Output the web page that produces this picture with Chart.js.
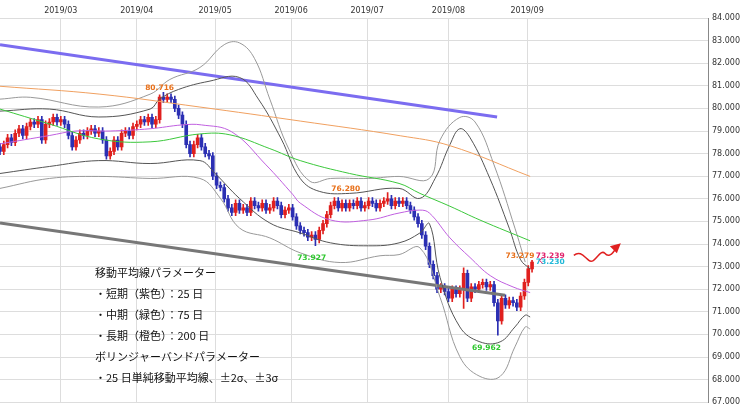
<!DOCTYPE html>
<html><head><meta charset="utf-8">
<script src="https://cdn.jsdelivr.net/npm/chart.js@4"></script>
<style>html,body{margin:0;padding:0;background:#fff}#w{width:740px;height:411px}</style>
</head><body><div id="w"><canvas id="c"></canvas></div>
<script>
const monthLabels=['2019/03','2019/04','2019/05','2019/06','2019/07','2019/08','2019/09'];
const monthIdx=[16,36,56.6,76.6,96.6,118,138.7];
const closes=[78.1,78.4,78.7,78.5,78.9,79.1,78.8,79.2,79.4,79.3,
79.5,78.6,79.3,79.4,79.6,79.4,
79.5,79.3,78.8,78.3,78.6,78.9,
78.8,79.0,79.1,78.9,79.0,
78.6,77.9,78.1,
78.6,78.3,78.9,79.0,
78.8,79.2,79.3,79.5,79.4,79.6,79.3,79.5,
80.5,80.4,80.5,80.4,
80.0,79.7,79.3,
78.4,78.0,78.4,78.7,
78.3,78.0,77.9,
77.0,76.6,76.5,76.0,75.6,75.4,
75.8,75.5,75.6,75.4,75.9,75.7,75.6,75.8,75.5,75.6,75.9,75.7,75.3,75.5,75.6,
75.2,74.8,74.6,74.5,74.3,74.4,74.2,74.6,
74.9,75.3,75.7,75.9,75.6,75.8,
75.6,75.8,75.7,75.9,75.6,75.7,75.9,75.8,75.6,75.8,75.9,76.0,75.7,75.9,75.8,75.9,75.7,
75.5,75.2,74.9,74.4,
73.9,73.1,72.6,72.0,72.1,
71.9,71.6,72.0,71.8,72.0,
72.7,
71.6,72.1,72.0,72.2,72.3,72.1,72.2,71.4,70.6,
71.6,71.3,71.5,71.4,71.2,
71.7,72.3,72.9,73.2];
const firstOpen=78.3;
const highOverride={42:80.6,43:80.716,44:80.65,102:76.28,122:72.95,140:73.279};
const lowOverride={83:73.927,131:69.962,122:71.15};
const ma25=[[0,78.43],[13,78.8],[20,79.0],[29,79.0],[39.5,79.1],[48,79.27],[53,79.27],[61,78.96],[70,77.5],[77,76.2],[79,75.81],[87,75.06],[97,75.06],[105,75.37],[110.5,75.5],[113,75.37],[118.4,74.27],[123.7,73.4],[129,72.6],[135,72.1],[139.5,71.85]];
const ma75=[[0,79.97],[13,79.31],[26,78.65],[39.5,78.52],[52.6,78.87],[60.5,78.83],[71,78.22],[79,77.69],[92,77.12],[105,76.68],[110.5,76.24],[118.4,75.67],[126.3,75.06],[139.5,74.14]];
const ma200=[[0,80.98],[26.3,80.63],[52.6,80.06],[79,79.44],[105.3,78.79],[118.4,78.35],[139.5,76.99]];
const bbUp2=[[0,79.88],[13,79.97],[26,79.62],[39.5,79.97],[42,80.41],[47,80.84],[55,81.2],[63,81.37],[68,80.41],[74,78.65],[79,76.9],[84,76.33],[92,76.24],[105,76.46],[110.5,76.02],[114.5,76.9],[118.4,78.4],[121,79.1],[123.7,78.7],[128.9,76.9],[134,74.7],[137,73.3],[139.5,72.9]];
const bbUp3=[[0,80.41],[8,80.49],[26,80.06],[39.5,80.63],[44.7,81.28],[52.6,81.81],[59,82.82],[63,82.9],[67,82.2],[71,80.41],[76,78.2],[81.6,76.77],[87,76.9],[97,76.9],[105,76.99],[113,76.9],[115.8,78.6],[121,79.6],[125,79.4],[130,77.5],[135.5,74.7],[138.2,73.2]];
const bbLo2=[[0,77.12],[13,77.43],[26,77.69],[39.5,77.56],[52.6,77.69],[56.6,77.12],[63,76.02],[71,74.93],[79,74.49],[87,74.05],[97,73.92],[105,74.05],[110.5,74.49],[113,74.9],[115.8,72.52],[121,70.33],[126.3,69.67],[131.6,69.67],[135.5,70.33],[138.2,70.85],[139.5,70.77]];
const bbLo3=[[0,76.46],[13,76.9],[26,76.99],[39.5,76.9],[52.6,76.9],[58,76.02],[63,74.71],[71,74.27],[79,73.61],[89.5,73.18],[100,73.48],[105,73.53],[110.5,73.83],[115.8,71.64],[121,69.01],[126.3,68.14],[131.6,68.14],[135.5,69.45],[138.2,70.33],[139.5,70.24]];
const trendUpper=[[0,82.82],[130.8,79.62]];
const trendLower=[[0,74.93],[132.9,71.73]];
const notes=[['80.716',42,80.9,'#e8701a'],['76.280',91,76.45,'#e8701a'],['73.927',82,73.4,'#2ec82e'],['69.962',128,69.4,'#2ec82e'],['73.279',136.8,73.45,'#e8701a'],['73.239',144.8,73.45,'#e0206a'],['73.230',144.8,73.18,'#20b8d8']];
const textLines=['移動平均線パラメーター','・短期（紫色）：25 日','・中期（緑色）：75 日','・長期（橙色）：200 日','ボリンジャーバンドパラメーター','・25 日単純移動平均線、±2σ、±3σ'];

const UP='#e0201e',DN='#2b2fb3';
const bodies=[],wicks=[],cols=[];
closes.forEach((c,i)=>{
  const o=i===0?firstOpen:closes[i-1];
  let hi=Math.max(o,c)+0.15, lo=Math.min(o,c)-0.15;
  if(highOverride[i]!==undefined)hi=highOverride[i];
  if(lowOverride[i]!==undefined)lo=lowOverride[i];
  const b=Math.abs(c-o)<0.04?[o-0.02,o+0.02]:[o,c];
  bodies.push({x:i,y:b});wicks.push({x:i,y:[lo,hi]});cols.push(c>=o?UP:DN);
});
const pts=a=>a.map(p=>({x:p[0],y:p[1]}));
const line=(d,color,w)=>({type:'line',data:pts(d),borderColor:color,borderWidth:w,pointRadius:0,tension:0.4,fill:false,order:0});

const overlay={id:'overlay',afterDatasetsDraw(ch){
  const g=ch.ctx,x=ch.scales.x,y=ch.scales.y;
  g.save();
  g.font='bold 7.5px "DejaVu Sans"';g.textAlign='center';g.textBaseline='middle';
  notes.forEach(n=>{g.fillStyle=n[3];g.fillText(n[0],x.getPixelForValue(n[1]),y.getPixelForValue(n[2]));});
  g.font='11px "Noto Sans CJK JP"';g.textAlign='left';g.fillStyle='#111';
  textLines.forEach((t,k)=>g.fillText(t,95,273+k*21));
  const sx=x.getPixelForValue(151),sy=y.getPixelForValue(73.5);
  g.strokeStyle='#e02020';g.lineWidth=1.5;g.beginPath();g.moveTo(sx,sy);
  g.bezierCurveTo(sx+6,sy-5,sx+10,sy+1,sx+15,sy+5);
  g.bezierCurveTo(sx+21,sy+10,sx+26,sy-7,sx+31,sy-2);
  g.bezierCurveTo(sx+34,sy+2,sx+38,sy,sx+42,sy-7);g.stroke();
  g.fillStyle='#e02020';g.beginPath();g.moveTo(sx+47,sy-12);g.lineTo(sx+36,sy-9);g.lineTo(sx+43,sy-2);g.closePath();g.fill();
  g.beginPath();g.moveTo(x.getPixelForValue(142.8),y.getPixelForValue(73.4));g.lineTo(x.getPixelForValue(142),y.getPixelForValue(73.27));g.lineTo(x.getPixelForValue(142.8),y.getPixelForValue(73.14));g.strokeStyle='#e0206a';g.lineWidth=1;g.stroke();
  g.restore();
}};

new Chart(document.getElementById('c'),{
  data:{datasets:[
    {type:'bar',data:wicks,backgroundColor:cols,barThickness:1,grouped:false,order:3},
    {type:'bar',data:bodies,backgroundColor:cols,barThickness:3,grouped:false,order:2},
    line(ma200,'#f0a060',1),line(ma75,'#3cc83c',1),line(ma25,'#c060e0',1),
    line(bbUp2,'#555',1),line(bbLo2,'#555',1),line(bbUp3,'#999',1),line(bbLo3,'#999',1),
    {...line(trendUpper,'#7b6cf0',3),tension:0},{...line(trendLower,'#777',3),tension:0}
  ]},
  options:{responsive:true,maintainAspectRatio:false,animation:false,
    layout:{padding:{bottom:5,left:0}},
    plugins:{legend:{display:false},tooltip:{enabled:false}},
    scales:{
      x:{type:'linear',position:'top',min:0,max:186.3,offset:false,
        afterBuildTicks:s=>{s.ticks=monthIdx.map(v=>({value:v}));},
        afterFit:s=>{s.height=18;s.paddingLeft=0;s.paddingRight=0;},
        ticks:{callback:(v,i)=>monthLabels[i],font:{size:8,family:'DejaVu Sans'},color:'#333',padding:2,maxRotation:0,autoSkip:false},
        grid:{color:'#ddd',drawTicks:false,offset:false},border:{display:false}},
      y:{position:'right',min:67,max:84,
        afterFit:s=>{s.width=32;},
        ticks:{stepSize:1,callback:v=>v.toFixed(3),font:{size:8,family:'DejaVu Sans'},color:'#333',padding:4},
        grid:{color:'#ddd',drawTicks:false},border:{color:'#888'}}
    }},
  plugins:[overlay]
});
</script></body></html>
